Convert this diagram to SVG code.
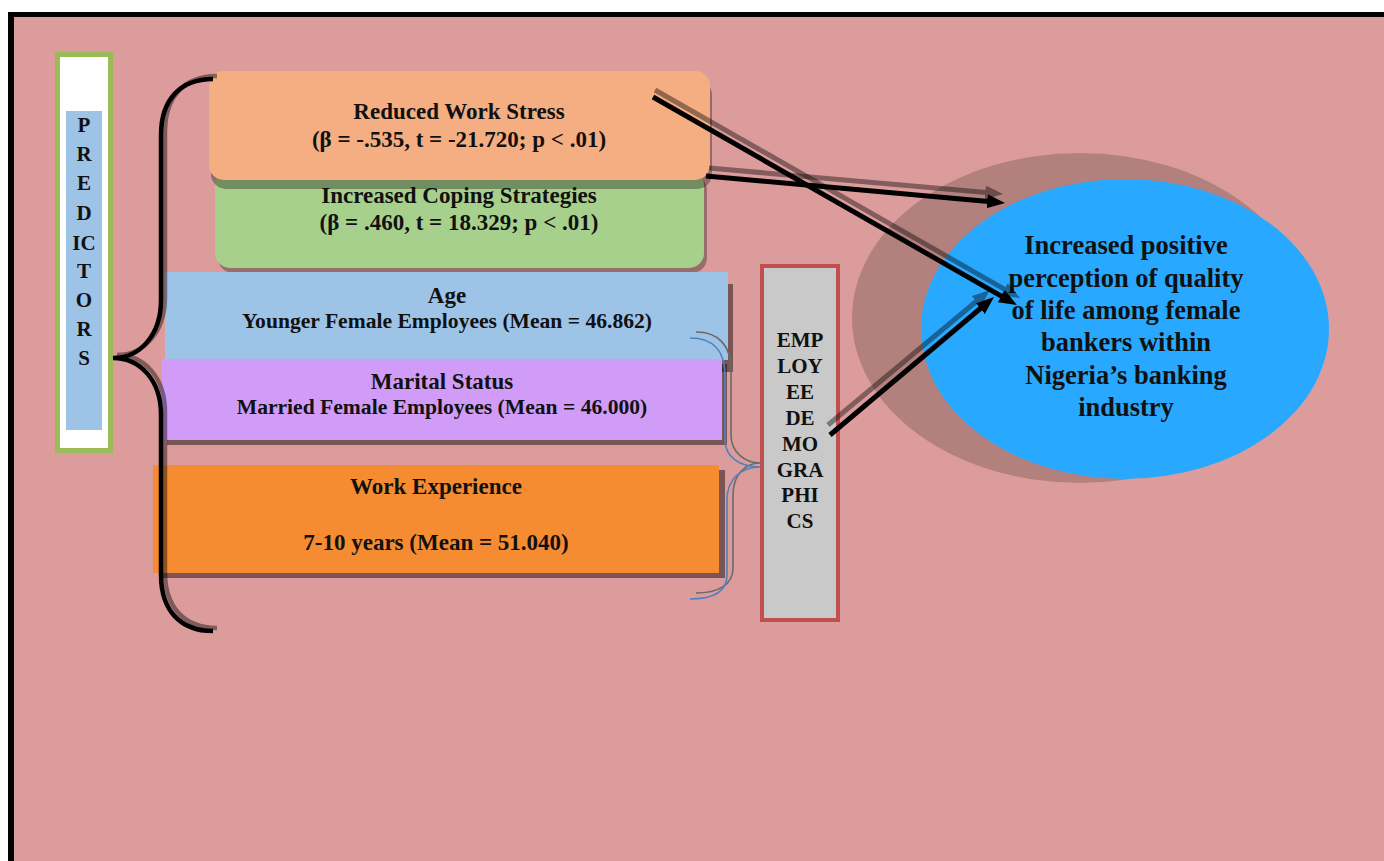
<svg xmlns="http://www.w3.org/2000/svg" width="1384" height="861" viewBox="0 0 1384 861">
<defs>
<style>
text{font-family:"Liberation Serif","DejaVu Serif",serif;font-weight:bold;fill:#111;text-anchor:middle}
.t{font-size:23px}
.s{font-size:21.6px}
.v{font-size:21px}
.e{font-size:26.5px}
.sh{fill:#000;opacity:0.4}
.arr{stroke:#000;stroke-width:5;fill:none}
</style>
<marker id="ah" markerUnits="userSpaceOnUse" markerWidth="20" markerHeight="16" refX="4" refY="7" orient="auto">
<path d="M0,0 L18,7 L0,14 z" fill="#000"/>
</marker>
</defs>
<rect x="0" y="0" width="1384" height="861" fill="#fff"/>
<rect x="8" y="12" width="1376" height="849" fill="#000"/>
<rect x="14" y="17" width="1370" height="844" fill="#DC9C9C"/>

<g id="outcome">
<ellipse cx="1080" cy="318" rx="228" ry="165" fill="#B3817D"/>
<ellipse cx="1125" cy="329" rx="204" ry="150" fill="#29A8FF"/>
<text class="e" x="1126" y="254">Increased positive</text>
<text class="e" x="1126" y="287">perception of quality</text>
<text class="e" x="1126" y="319">of life among female</text>
<text class="e" x="1126" y="351">bankers within</text>
<text class="e" x="1126" y="384">Nigeria’s banking</text>
<text class="e" x="1126" y="416">industry</text>
</g>

<g id="predictors">
<rect x="55" y="52" width="58" height="401" fill="#9BBB59"/>
<rect x="60" y="57" width="48" height="391" fill="#fff"/>
<rect x="66" y="111" width="36" height="319" fill="#9DC3E6"/>
<text class="v" x="84" y="132">P</text>
<text class="v" x="84" y="161">R</text>
<text class="v" x="84" y="190">E</text>
<text class="v" x="84" y="220">D</text>
<text class="v" x="84" y="250">IC</text>
<text class="v" x="84" y="278">T</text>
<text class="v" x="84" y="307">O</text>
<text class="v" x="84" y="336">R</text>
<text class="v" x="84" y="365">S</text>
</g>

<g id="coping">
<rect class="sh" x="218" y="175" width="489" height="98" rx="15" style="opacity:0.3"/>
<rect x="215" y="170" width="489" height="98" rx="15" fill="#A8D08D"/>
<text class="t" x="459" y="203">Increased Coping Strategies</text>
<text class="t" x="459" y="230">(β = .460, t = 18.329; p &lt; .01)</text>
</g>

<g id="stress">
<rect class="sh" x="211" y="80" width="501" height="109" rx="15" style="opacity:0.32"/>
<rect x="209" y="71" width="501" height="109" rx="15" fill="#F4AE82"/>
<text class="t" x="459" y="119">Reduced Work Stress</text>
<text class="t" x="459" y="147">(β = -.535, t = -21.720; p &lt; .01)</text>
</g>

<g id="age">
<rect class="sh" x="170" y="284" width="563" height="88" style="opacity:0.45"/>
<rect x="165" y="272" width="563" height="88" fill="#9DC3E6"/>
<text class="t" x="447" y="303">Age</text>
<text class="s" x="447" y="328">Younger Female Employees (Mean = 46.862)</text>
</g>

<g id="marital">
<rect class="sh" x="167" y="364" width="560" height="81" style="opacity:0.45"/>
<rect x="162" y="359" width="560" height="81" fill="#D09CF8"/>
<text class="t" x="442" y="389">Marital Status</text>
<text class="s" x="442" y="414">Married Female Employees (Mean = 46.000)</text>
</g>

<g id="experience">
<rect class="sh" x="159" y="470" width="566" height="108" style="opacity:0.45"/>
<rect x="153" y="465" width="566" height="108" fill="#F68C32"/>
<text class="t" x="436" y="494">Work Experience</text>
<text class="t" x="436" y="550">7-10 years (Mean = 51.040)</text>
</g>

<g id="demographics">
<rect x="762" y="266" width="76" height="354" fill="#C9C9C9" stroke="#C0504D" stroke-width="4"/>
<text class="v" x="800" y="347">EMP</text>
<text class="v" x="800" y="373">LOY</text>
<text class="v" x="800" y="399">EE</text>
<text class="v" x="800" y="425">DE</text>
<text class="v" x="800" y="451">MO</text>
<text class="v" x="800" y="477">GRA</text>
<text class="v" x="800" y="502">PHI</text>
<text class="v" x="800" y="528">CS</text>
</g>

<g id="connectors">
<path d="M217,76 C184,76 165,97 165,132 L165,297 C165,332 144,355 117,355 C144,355 165,377 165,412 L165,572 C165,607 184,628 217,628" fill="none" stroke="#000" stroke-width="4.5" opacity="0.42"/>
<path d="M213,79 C180,79 161,100 161,135 L161,300 C161,335 140,358 113,358 C140,358 161,380 161,415 L161,575 C161,610 180,631 213,631" fill="none" stroke="#000" stroke-width="4.5"/>
<path d="M696,332 C718,332 731,345 731,370 L731,435 C731,452 745,463 760,463 C745,463 733,475 733,495 L733,568 C733,585 718,593 696,593" fill="none" stroke="#6A6A6A" stroke-width="1.6"/>
<path d="M690,338 C712,338 725,350 725,375 L725,440 C725,457 740,467 760,467 C740,467 727,480 727,500 L727,575 C727,592 712,599 690,599" fill="none" stroke="#4F81BD" stroke-width="1.6"/>
<g opacity="0.4">
<line class="arr" x1="655" y1="90" x2="1007.8" y2="291.1" marker-end="url(#ah)"/>
</g>
<g opacity="0.4">
<line class="arr" x1="709" y1="168" x2="989.1" y2="192.8" marker-end="url(#ah)"/>
</g>
<g opacity="0.4">
<line class="arr" x1="828" y1="425" x2="979.2" y2="299.0" marker-end="url(#ah)"/>
</g>
<line class="arr" x1="653" y1="97" x2="1004.8" y2="298.1" marker-end="url(#ah)"/>
<line class="arr" x1="706" y1="176" x2="991.1" y2="201.7" marker-end="url(#ah)"/>
<line class="arr" x1="830" y1="435" x2="983.3" y2="306.0" marker-end="url(#ah)"/>
</g>
</svg>
